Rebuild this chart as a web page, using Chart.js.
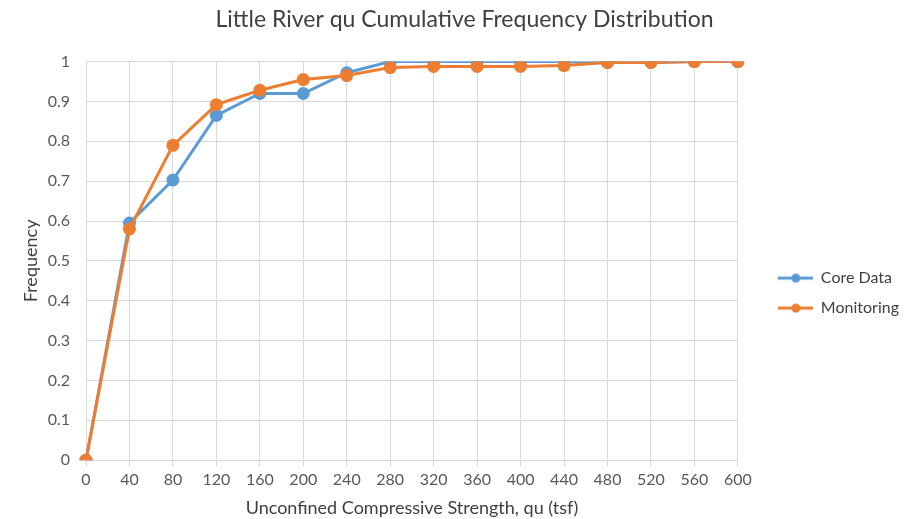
<!DOCTYPE html>
<html>
<head>
<meta charset="utf-8">
<script src="https://cdn.jsdelivr.net/npm/chart.js@4"></script>
<style>
  body { margin: 0; background: #fff; }
</style>
</head>
<body>
<canvas id="myChart" width="909" height="519"></canvas>
<script>
// x categories (tsf)
const strengths = ['0', '40', '80', '120', '160', '200', '240', '280', '320', '360', '400', '440', '480', '520', '560', '600'];
const coreData = [0, 0.595, 0.703, 0.865, 0.92, 0.92, 0.972, 1, 1, 1, 1, 1, 0.998, 0.998, 1, 1];
const monitoring = [0, 0.58, 0.79, 0.892, 0.928, 0.955, 0.965, 0.985, 0.988, 0.988, 0.988, 0.99, 0.998, 0.998, 1, 1];
const yTicks = ['0', '0.1', '0.2', '0.3', '0.4', '0.5', '0.6', '0.7', '0.8', '0.9', '1'];

const FONT = 'Lato, "Open Sans", sans-serif';

// little line+dot marker like excel's legend (blank space on the left pushes the legend out)
function legendMark(color) {
    var c = document.createElement('canvas');
    c.width = 61; c.height = 12;
    var g = c.getContext('2d');
    g.strokeStyle = color;
    g.lineWidth = 3;
    g.beginPath();
    g.moveTo(26, 6); g.lineTo(61, 6);
    g.stroke();
    g.fillStyle = color;
    g.beginPath();
    g.arc(44, 6, 4.5, 0, Math.PI * 2);
    g.fill();
    return c;
}

var ctx = document.getElementById('myChart').getContext('2d');
const myChart = new Chart(ctx, {
    type: 'line',
    data: {
        labels: strengths,
        datasets: [{
            label: 'Core Data',
            data: coreData,
            borderColor: '#5b9bd5',
            backgroundColor: '#5b9bd5',
            borderWidth: 3,
            pointRadius: 5,
            pointStyle: 'circle',
            order: 2
        }, {
            label: 'Monitoring',
            data: monitoring,
            borderColor: '#ed7d31',
            backgroundColor: '#ed7d31',
            borderWidth: 3,
            pointRadius: 5,
            pointStyle: 'circle',
            order: 1
        }]
    },
    options: {
        responsive: false,
        animation: false,
        layout: { padding: { left: 20, right: 0, top: 0, bottom: 0 } },
        plugins: {
            title: {
                display: true,
                text: 'Little River qu Cumulative Frequency Distribution',
                color: '#404040',
                font: { family: FONT, size: 23, weight: 'normal' },
                padding: { top: 6, bottom: 28 }
            },
            legend: {
                position: 'right',
                title: {
                    display: true,
                    text: ' ',
                    font: { size: 1 },
                    padding: { top: 0, bottom: 66 }
                },
                labels: {
                    color: '#404040',
                    font: { family: FONT, size: 16 },
                    padding: 14,
                    usePointStyle: true,
                    pointStyleWidth: 61,
                    generateLabels: function (chart) {
                        return chart.data.datasets.map(function (ds, i) {
                            return {
                                text: ds.label,
                                datasetIndex: i,
                                pointStyle: legendMark(ds.borderColor),
                                fontColor: '#404040',
                                hidden: false
                            };
                        });
                    }
                }
            },
            tooltip: { enabled: false }
        },
        scales: {
            x: {
                type: 'category',
                offset: false,
                grid: { color: '#d9d9d9', drawTicks: true, tickLength: 6 },
                border: { color: '#d9d9d9' },
                ticks: { color: '#595959', font: { family: FONT, size: 16 }, maxRotation: 0, autoSkip: false, padding: 4 },
                title: {
                    display: true,
                    text: 'Unconfined Compressive Strength, qu (tsf)',
                    color: '#404040',
                    font: { family: FONT, size: 18 },
                    padding: { top: 4, bottom: 0 }
                }
            },
            y: {
                min: 0,
                max: 1,
                afterFit: function (scale) { scale.width = 66; },
                grid: { color: '#d9d9d9', drawTicks: false },
                border: { display: false },
                ticks: {
                    stepSize: 0.1,
                    padding: 16,
                    color: '#595959',
                    font: { family: FONT, size: 16 },
                    callback: function (v, i) { return yTicks[i]; }
                },
                title: {
                    display: true,
                    text: 'Frequency',
                    color: '#404040',
                    font: { family: FONT, size: 18 },
                    padding: { top: 0, bottom: 6 }
                }
            }
        }
    }
});
</script>
</body>
</html>
